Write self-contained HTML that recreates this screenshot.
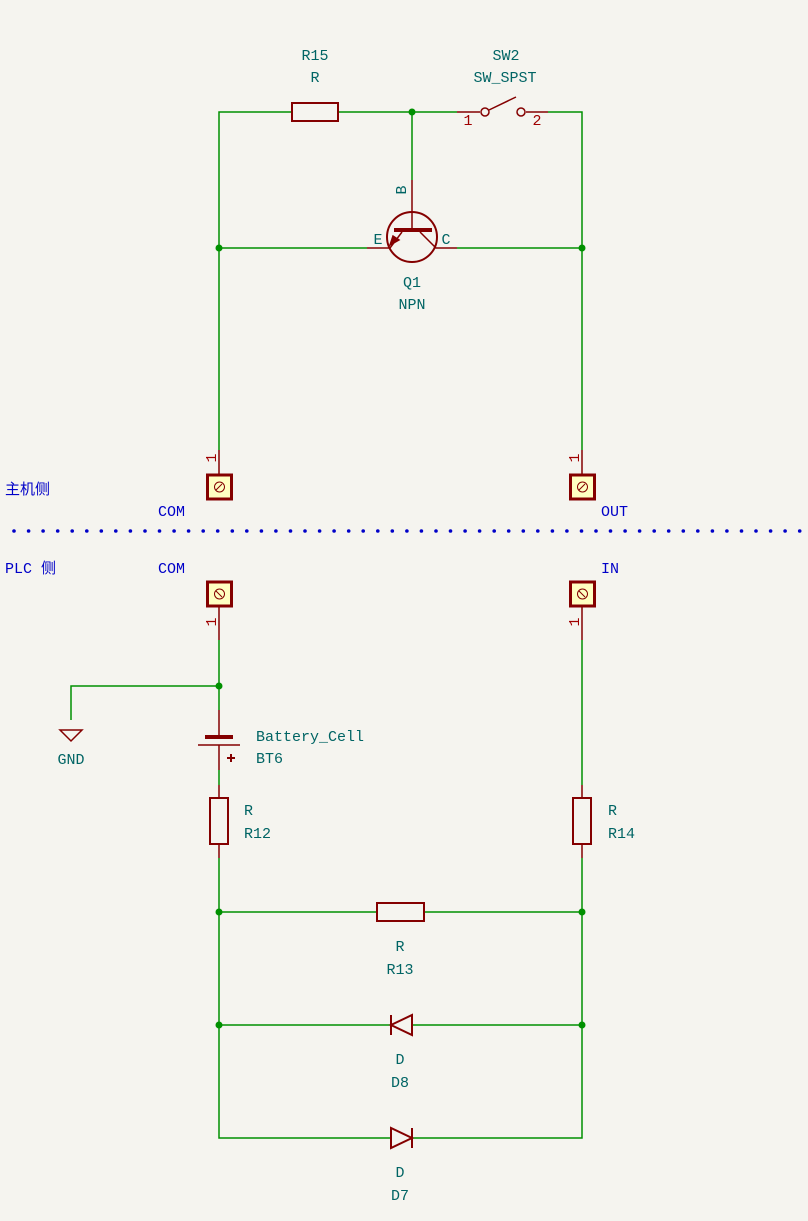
<!DOCTYPE html>
<html><head><meta charset="utf-8"><style>
body{margin:0;background:#f5f4ef}
svg{display:block}
text{font-family:"Liberation Mono","Noto Sans CJK SC",monospace;font-size:15px}
.t{fill:#006464}.b{fill:#0000c8}.r{fill:#a00000}
</style></head><body>
<svg id="sch" width="808" height="1221" viewBox="0 0 808 1221">
<g stroke="#009000" stroke-width="1.5" fill="none">
<path d="M219 450V112H292M338 112H457M548 112H582V450"/>
<path d="M412 112V180"/>
<path d="M219 248H367M457 248H582"/>
<path d="M219 640V710M71 720V686H219"/>
<path d="M219 770V785M219 858V1138H390M412 1138H582V858M582 785V640"/>
<path d="M219 912H377M424 912H582M219 1025H390M412 1025H582"/>
</g>
<g fill="#009000">
<circle cx="412" cy="112" r="3.5"/><circle cx="219" cy="248" r="3.5"/><circle cx="582" cy="248" r="3.5"/>
<circle cx="219" cy="686" r="3.5"/><circle cx="219" cy="912" r="3.5"/><circle cx="582" cy="912" r="3.5"/>
<circle cx="219" cy="1025" r="3.5"/><circle cx="582" cy="1025" r="3.5"/>
</g>
<g stroke="#840000" stroke-width="1.5" fill="none">
<rect x="292" y="103" width="46" height="18" stroke-width="2"/>
<path d="M457 112H480M526 112H548M489 110L516 97"/>
<circle cx="485" cy="112" r="4"/><circle cx="521" cy="112" r="4"/>
<circle cx="412" cy="237" r="25" stroke-width="2"/>
<path d="M412 180V230M367 248H390L402 232M457 248H436L420 232"/>
<path d="M394 230H432" stroke-width="4"/>
<path d="M390 245l3-9 6 4z" fill="#840000"/>
<path d="M219 450V487M582 450V487M219 594V640M582 594V640"/>
<path d="M219 737V710M219 745V770M198 745H240"/>
<path d="M205 737H233" stroke-width="4"/>
<path d="M227 758h8M231 754v8" stroke-width="2"/>
<path d="M60 730H82L71 741Z"/>
<rect x="210" y="798" width="18" height="46" stroke-width="2"/>
<rect x="573" y="798" width="18" height="46" stroke-width="2"/>
<path d="M219 785V798M219 844V858M582 785V798M582 844V858"/>
<rect x="377" y="903" width="47" height="18" stroke-width="2"/>
<path d="M412 1015V1035L391 1025Z M391 1015V1035" stroke-width="2"/>
<path d="M391 1128V1148L412 1138Z M412 1128V1148" stroke-width="2"/>
</g>
<g stroke="#840000" stroke-width="3" fill="#ffffc2">
<rect x="207.5" y="475" width="24" height="24"/><rect x="570.5" y="475" width="24" height="24"/>
<rect x="207.5" y="582" width="24" height="24"/><rect x="570.5" y="582" width="24" height="24"/>
</g>
<g stroke="#840000" stroke-width="1" fill="none">
<circle cx="219.5" cy="487" r="5"/><circle cx="582.5" cy="487" r="5"/><circle cx="219.5" cy="594" r="5"/><circle cx="582.5" cy="594" r="5"/>
<path d="M216 490l6-6M579 490l6-6M216 591l6 6M579 591l6 6"/>
</g>
<g id="sep" fill="#0000c8"></g>
<g text-anchor="middle">
<text class="t" x="315" y="60">R15</text>
<text class="t" x="315" y="82">R</text>
<text class="t" x="506" y="60">SW2</text>
<text class="t" x="505" y="82">SW_SPST</text>
<text class="r" x="468" y="125">1</text>
<text class="r" x="537" y="125">2</text>
<text class="t" x="378" y="244">E</text>
<text class="t" x="446" y="244">C</text>
<text class="t" transform="translate(406,190) rotate(-90)">B</text>
<text class="t" x="412" y="287">Q1</text>
<text class="t" x="412" y="309">NPN</text>
<text class="r" transform="translate(216,458) rotate(-90)">1</text>
<text class="r" transform="translate(579,458) rotate(-90)">1</text>
<text class="r" transform="translate(216,622) rotate(-90)">1</text>
<text class="r" transform="translate(579,622) rotate(-90)">1</text>
<text class="t" x="71" y="764">GND</text>
<text class="t" x="400" y="951">R</text>
<text class="t" x="400" y="974">R13</text>
<text class="t" x="400" y="1064">D</text>
<text class="t" x="400" y="1087">D8</text>
<text class="t" x="400" y="1177">D</text>
<text class="t" x="400" y="1200">D7</text>
</g>
<text class="b" x="5" y="494">主机侧</text>
<text class="b" x="158" y="516">COM</text>
<text class="b" x="601" y="516">OUT</text>
<text class="b" x="5" y="573">PLC 侧</text>
<text class="b" x="158" y="573">COM</text>
<text class="b" x="601" y="573">IN</text>
<text class="t" x="256" y="741">Battery_Cell</text>
<text class="t" x="256" y="763">BT6</text>
<text class="t" x="244" y="815">R</text>
<text class="t" x="244" y="838">R12</text>
<text class="t" x="608" y="815">R</text>
<text class="t" x="608" y="838">R14</text>
</svg>
<script>
var g=document.getElementById('sep');
for(var x=14;x<808;x+=14.55){
var c=document.createElementNS('http://www.w3.org/2000/svg','circle');
c.setAttribute('cx',x.toFixed(1));c.setAttribute('cy','531');c.setAttribute('r','1.8');


g.appendChild(c);}
</script>
</body></html>
